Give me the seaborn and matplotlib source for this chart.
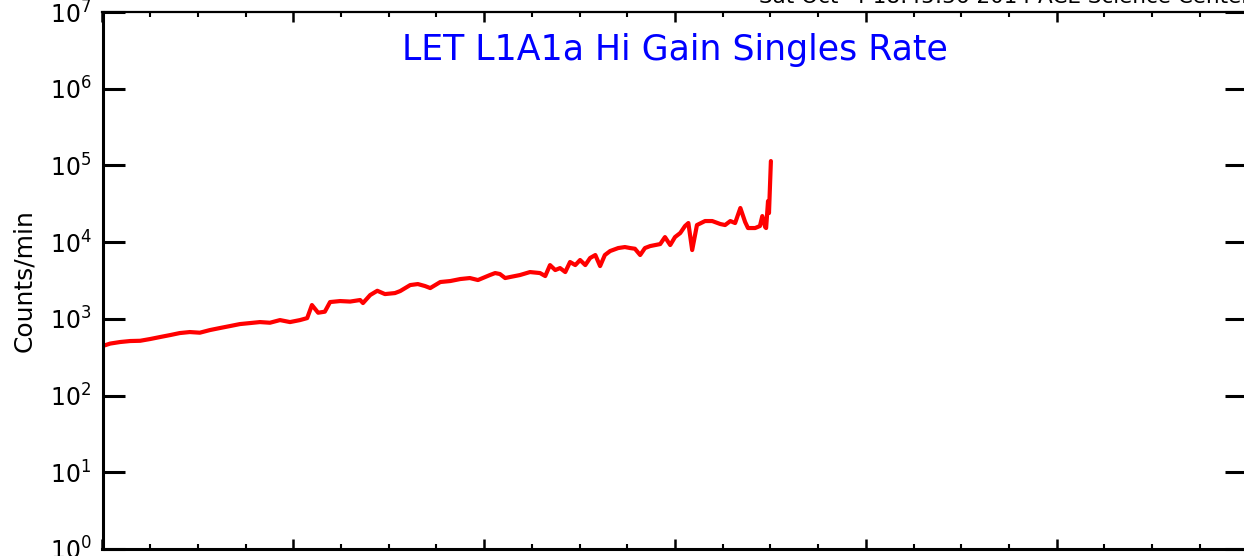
import matplotlib
matplotlib.use("Agg")
import matplotlib.pyplot as plt
import matplotlib.ticker as mticker
import seaborn as sns
import pandas as pd
import numpy as np

# LET L1A1a hi gain singles rate
years = [1998.00, 1998.16, 1998.37, 1998.58, 1998.79, 1999.00, 1999.21, 1999.42,
         1999.62, 1999.83, 2000.04, 2000.25, 2000.46, 2000.67, 2000.88, 2001.09,
         2001.30, 2001.51, 2001.72, 2001.93, 2002.14, 2002.29, 2002.39, 2002.52,
         2002.66, 2002.77, 2002.98, 2003.19, 2003.40, 2003.46, 2003.61, 2003.76,
         2003.92, 2004.13, 2004.24, 2004.45, 2004.61, 2004.76, 2004.87, 2005.08,
         2005.29, 2005.50, 2005.70, 2005.87, 2006.12, 2006.23, 2006.33, 2006.44,
         2006.54, 2006.75, 2006.96, 2007.17, 2007.28, 2007.38, 2007.49, 2007.59,
         2007.70, 2007.80, 2007.91, 2008.01, 2008.12, 2008.22, 2008.33, 2008.43,
         2008.53, 2008.64, 2008.81, 2008.95, 2009.06, 2009.16, 2009.27, 2009.37,
         2009.48, 2009.69, 2009.79, 2009.90, 2010.00, 2010.11, 2010.21, 2010.28,
         2010.36, 2010.46, 2010.63, 2010.78, 2010.95, 2011.05, 2011.16, 2011.26,
         2011.37, 2011.47, 2011.53, 2011.68, 2011.78, 2011.83, 2011.89, 2011.91,
         2011.95, 2011.97, 2012.01]
rates = [442, 476, 499, 514, 518, 546, 580, 615,
         653, 673, 660, 714, 759, 805, 855, 881,
         908, 890, 964, 908, 964, 1023, 1513, 1202,
         1240, 1656, 1706, 1680, 1760, 1607, 2042, 2323,
         2104, 2168, 2303, 2758, 2842, 2677, 2520, 3020,
         3112, 3304, 3404, 3206, 3724, 3955, 3840, 3404,
         3508, 3724, 4074, 3955, 3614, 5023, 4325, 4592,
         4074, 5508, 5023, 5848, 5023, 6209, 6792, 4876,
         6792, 7656, 8375, 8630, 8375, 8200, 6792, 8375,
         8892, 9440, 11640, 9160, 11640, 13150, 16220, 17740,
         7890, 16710, 18840, 18840, 17220, 16710, 18840, 17740,
         27860, 18300, 15270, 15270, 16220, 21880, 15700, 15270,
         34360, 23930, 114000]

title = "LET L1A1a Hi Gain Singles Rate"
stamp = "Sat Oct  4 18:45:36 2014 ACE Science Center"

df = pd.DataFrame({"year": years, "rate": rates})

sns.set_style("ticks")
plt.rcParams["font.family"] = ["DejaVu Sans"]
plt.rcParams["mathtext.default"] = "regular"

fig = plt.figure(figsize=(12.44, 5.56), dpi=100)
ax = fig.add_axes([102.5 / 1244, 7 / 556, 1145 / 1244, 537 / 556])

sns.lineplot(data=df, x="year", y="rate", ax=ax, color="#ff0000", linewidth=3.0)

ax.set_yscale("log")
ax.set_ylim(1, 1e7)
ax.set_xlim(1998, 2022)

ax.yaxis.set_major_locator(mticker.LogLocator(base=10, numticks=10))
ax.yaxis.set_minor_locator(mticker.NullLocator())
ax.yaxis.set_major_formatter(mticker.FuncFormatter(lambda v, p: r"$10^{%d}$" % round(np.log10(v))))
ax.xaxis.set_major_locator(mticker.MultipleLocator(4, offset=2))
ax.xaxis.set_minor_locator(mticker.MultipleLocator(1))

ax.tick_params(axis="y", which="major", direction="in", length=16, width=2.2,
               left=True, right=True, labelsize=17, pad=8, colors="black")
ax.tick_params(axis="x", which="major", direction="in", length=7, width=1.8,
               top=True, bottom=True, labelbottom=False, colors="black")
ax.tick_params(axis="x", which="minor", direction="in", length=3.6, width=1.5,
               top=True, bottom=True, colors="black")

for side in ["left", "bottom", "right"]:
    ax.spines[side].set_linewidth(2.2)
ax.spines["top"].set_linewidth(1.6)
for s in ax.spines.values():
    s.set_color("black")

ax.set_xlabel("")
ax.set_ylabel("Counts/min", fontsize=18, labelpad=10, color="black")
fig.text(675 / 1244, 1 - 50 / 556, title, ha="center", va="center",
         fontsize=25, color="#0000ff")
fig.text(1250 / 1244, 1 - 3 / 556, stamp, ha="right", va="baseline", fontsize=15.5,
         color="black")

fig.savefig("out.png", dpi=100)
